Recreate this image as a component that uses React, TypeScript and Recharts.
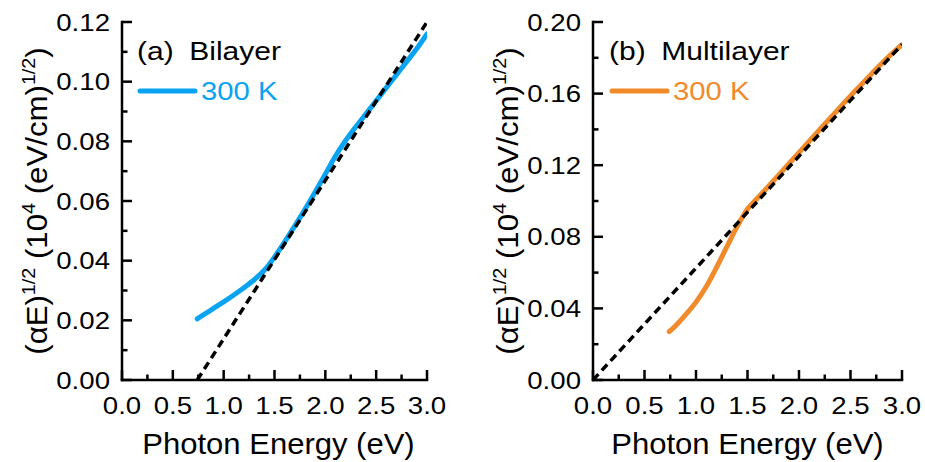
import React from 'react';
import { LineChart, Line, XAxis, YAxis, Legend, Label } from 'recharts';

const FONT = "'Liberation Sans', Arial, Helvetica, sans-serif";

// ---- data ----
const energy = [0.74, 0.8, 0.9, 1.0, 1.1, 1.2, 1.3, 1.4, 1.5, 1.6, 1.7, 1.8, 1.9, 2.0, 2.1, 2.2, 2.3, 2.4, 2.5, 2.6, 2.7, 2.8, 2.9, 3.0];
const bilayer = [0.0205, 0.0218, 0.024, 0.0262, 0.0285, 0.0309, 0.0336, 0.0368, 0.0412, 0.0463, 0.0517, 0.0572, 0.063, 0.069, 0.0751, 0.0803, 0.0849, 0.0892, 0.0936, 0.098, 0.1023, 0.1067, 0.1111, 0.116];
const multilayer = [0.027, 0.0302, 0.0365, 0.0435, 0.0522, 0.063, 0.0745, 0.0858, 0.0955, 0.1018, 0.108, 0.1143, 0.1207, 0.127, 0.1334, 0.1398, 0.1461, 0.1524, 0.1587, 0.1647, 0.1707, 0.1767, 0.1822, 0.1874];

const fitBilayerX = [0.74, 3.0];
const fitBilayerY = [0, 0.12];
const fitMultiX = [0, 3.0];
const fitMultiY = [0, 0.1875];

const xTicks = [0, 0.25, 0.5, 0.75, 1.0, 1.25, 1.5, 1.75, 2.0, 2.25, 2.5, 2.75, 3.0];
const xTickLabels = ['0.0', '0.5', '1.0', '1.5', '2.0', '2.5', '3.0'];
const yTicksA = [0, 0.01, 0.02, 0.03, 0.04, 0.05, 0.06, 0.07, 0.08, 0.09, 0.1, 0.11, 0.12];
const yTickLabelsA = ['0.00', '0.02', '0.04', '0.06', '0.08', '0.10', '0.12'];
const yTicksB = [0, 0.02, 0.04, 0.06, 0.08, 0.1, 0.12, 0.14, 0.16, 0.18, 0.2];
const yTickLabelsB = ['0.00', '0.04', '0.08', '0.12', '0.16', '0.20'];

const seriesName = '300 K';
const tagA = ['(a)', 'Bilayer'];
const tagB = ['(b)', 'Multilayer'];
const BLUE = '#0AA3F2';
const ORANGE = '#F08A2B';

// ---- styles ----
const AXIS = { stroke: '#000', strokeWidth: 2.5, strokeLinecap: 'square' as const };
const TICK_FS = 24;
const TICK_SX = 1.15;
const MAJOR = 10;
const MINOR = 5.5;

const BottomTick = (p: any) => {
  const { x, y, index } = p;
  const major = index % 2 === 0;
  return (
    <g>
      <line x1={x} x2={x} y1={y} y2={y - (major ? MAJOR : MINOR)} stroke="#000" strokeWidth={2.5} />
      {major && (
        <text transform={`translate(${x},${y + 34}) scale(${TICK_SX},1)`} textAnchor="middle" fontSize={TICK_FS} fontFamily={FONT} fill="#000">
          {xTickLabels[index / 2]}
        </text>
      )}
    </g>
  );
};

const TopTick = (p: any) => {
  const { x, y, index } = p;
  const major = index % 2 === 0;
  return <line x1={x} x2={x} y1={y} y2={y + (major ? MAJOR : MINOR)} stroke="#000" strokeWidth={2.5} />;
};

const makeLeftTick = (labels: string[]) => (p: any) => {
  const { x, y, index } = p;
  const major = index % 2 === 0;
  return (
    <g>
      <line x1={x} x2={x + (major ? MAJOR : MINOR)} y1={y} y2={y} stroke="#000" strokeWidth={2.5} />
      {major && (
        <text transform={`translate(${x - 12},${y + 8.5}) scale(${TICK_SX},1)`} textAnchor="end" fontSize={TICK_FS} fontFamily={FONT} fill="#000">
          {labels[index / 2]}
        </text>
      )}
    </g>
  );
};

const RightTick = (p: any) => {
  const { x, y, index } = p;
  const major = index % 2 === 0;
  return <line x1={x} x2={x - (major ? MAJOR : MINOR)} y1={y} y2={y} stroke="#000" strokeWidth={2.5} />;
};

const XTitle = (dx: number) => (p: any) => {
  const vb = p.viewBox || {};
  const cx = vb.x + vb.width / 2 + dx;
  const by = vb.y + 74;
  return (
    <text transform={`translate(${cx},${by}) scale(1.07,1)`} textAnchor="middle" fontSize={29} fontFamily={FONT} fill="#000">
      Photon Energy (eV)
    </text>
  );
};

const YTitle = (p: any) => {
  const vb = p.viewBox || {};
  const bx = vb.x + vb.width - 75;
  const cy = vb.y + vb.height / 2;
  const sup = 19;
  return (
    <text transform={`translate(${bx},${cy}) rotate(-90) scale(1.04,1)`} textAnchor="middle" fontSize={30} fontFamily={FONT} fill="#000">
      <tspan>(αE)</tspan>
      <tspan dy={-12} fontSize={sup}>1/2</tspan>
      <tspan dy={12}>{' (10'}</tspan>
      <tspan dy={-12} fontSize={sup}>4</tspan>
      <tspan dy={12}>{' (eV/cm)'}</tspan>
      <tspan dy={-12} fontSize={sup}>1/2</tspan>
      <tspan dy={12}>)</tspan>
    </text>
  );
};

const makeLegend = (tag: string[]) => (props: any) => {
  const items = (props.payload || []).filter((it: any) => it.type !== 'none');
  return (
    <svg width={330} height={80} style={{ display: 'block', overflow: 'visible' }}>
      <text transform="translate(7,30) scale(1.2,1)" fontSize={25} fontFamily={FONT} fill="#000">
        <tspan>{tag[0]}</tspan>
        <tspan dx={13}>{tag[1]}</tspan>
      </text>
      {items.map((it: any, i: number) => (
        <g key={i}>
          <line x1={10} x2={65} y1={61} y2={61} stroke={it.color} strokeWidth={5} strokeLinecap="round" />
          <text transform="translate(71,70) scale(1.17,1)" fontSize={25} fontFamily={FONT} fill={it.color}>
            {it.value}
          </text>
        </g>
      ))}
    </svg>
  );
};

type PanelProps = {
  left: number;
  width: number;
  yAxisWidth: number;
  marginRight: number;
  curve: number[];
  fitX: number[];
  fitY: number[];
  color: string;
  yMax: number;
  yTicks: number[];
  yLabels: string[];
  tag: string[];
  titleDx: number;
  legendLeft: number;
};

function Panel(props: PanelProps) {
  const { left, width, yAxisWidth, marginRight, curve, fitX, fitY, color, yMax, yTicks, yLabels, tag, titleDx, legendLeft } = props;
  const curveData = energy.map((x, i) => ({ x, y: curve[i] }));
  const fitData = fitX.map((x, i) => ({ x, y: fitY[i] }));
  return (
    <div style={{ position: 'absolute', left, top: 0 }}>
      <LineChart width={width} height={462} margin={{ top: 22, right: marginRight, bottom: 0, left: 0 }}>
        <XAxis
          xAxisId={0}
          dataKey="x"
          type="number"
          domain={[0, 3]}
          ticks={xTicks}
          interval={0}
          height={82}
          tickSize={0}
          tickMargin={0}
          tickLine={false}
          axisLine={AXIS}
          tick={BottomTick}
          allowDataOverflow
        >
          <Label content={XTitle(titleDx)} />
        </XAxis>
        <XAxis
          xAxisId="top"
          orientation="top"
          dataKey="x"
          type="number"
          domain={[0, 3]}
          ticks={xTicks}
          interval={0}
          height={0}
          tickSize={0}
          tickMargin={0}
          tickLine={false}
          axisLine={AXIS}
          tick={TopTick}
          allowDataOverflow
        />
        <YAxis
          yAxisId={0}
          type="number"
          domain={[0, yMax]}
          ticks={yTicks}
          interval={0}
          width={yAxisWidth}
          tickSize={0}
          tickMargin={0}
          tickLine={false}
          axisLine={AXIS}
          tick={makeLeftTick(yLabels)}
          allowDataOverflow
        >
          <Label content={YTitle} />
        </YAxis>
        <YAxis
          yAxisId="right"
          orientation="right"
          type="number"
          domain={[0, yMax]}
          ticks={yTicks}
          interval={0}
          width={0}
          tickSize={0}
          tickMargin={0}
          tickLine={false}
          axisLine={AXIS}
          tick={RightTick}
          allowDataOverflow
        />
        <Legend
          layout="vertical"
          align="center"
          verticalAlign="middle"
          wrapperStyle={{ left: legendLeft, top: 30 }}
          content={makeLegend(tag)}
        />
        <Line
          data={curveData}
          dataKey="y"
          name={seriesName}
          type="monotone"
          stroke={color}
          strokeWidth={5}
          strokeLinecap="round"
          dot={false}
          activeDot={false}
          isAnimationActive={false}
        />
        <Line
          data={fitData}
          dataKey="y"
          name="fit"
          legendType="none"
          type="linear"
          stroke="#000"
          strokeWidth={3.5}
          strokeDasharray="8 5"
          dot={false}
          activeDot={false}
          isAnimationActive={false}
        />
      </LineChart>
    </div>
  );
}

export default function App() {
  return (
    <div style={{ position: 'absolute', left: 0, top: 0, width: 925, height: 462, background: '#fff' }}>
      <Panel
        left={0}
        width={462}
        yAxisWidth={122}
        marginRight={35}
        curve={bilayer}
        fitX={fitBilayerX}
        fitY={fitBilayerY}
        color={BLUE}
        yMax={0.12}
        yTicks={yTicksA}
        yLabels={yTickLabelsA}
        tag={tagA}
        titleDx={4}
        legendLeft={130}
      />
      <Panel
        left={462}
        width={463}
        yAxisWidth={131}
        marginRight={23}
        curve={multilayer}
        fitX={fitMultiX}
        fitY={fitMultiY}
        color={ORANGE}
        yMax={0.2}
        yTicks={yTicksB}
        yLabels={yTickLabelsB}
        tag={tagB}
        titleDx={0}
        legendLeft={140}
      />
    </div>
  );
}
